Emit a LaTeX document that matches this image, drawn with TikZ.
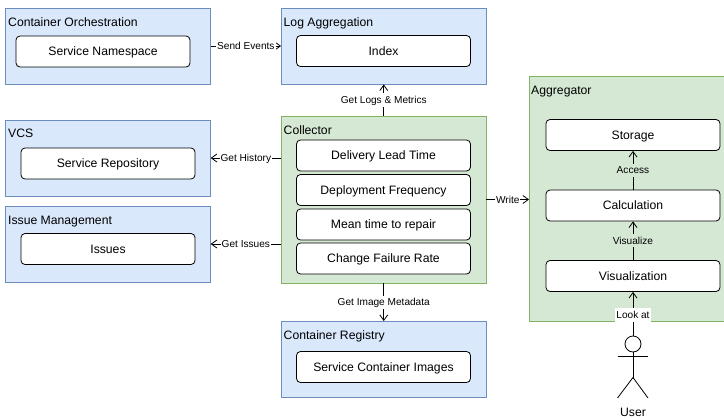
\documentclass[tikz,border=0pt]{standalone}
\usepackage{fontspec}
\setmainfont{Liberation Sans}
\usepackage{tikz}
\usetikzlibrary{arrows.meta,positioning}
\definecolor{bluefill}{HTML}{DAE8FC}
\definecolor{blueline}{HTML}{6C8EBF}
\definecolor{greenfill}{HTML}{D5E8D4}
\definecolor{greenline}{HTML}{82B366}
\tikzset{
  bluegroup/.style={draw=blueline, fill=bluefill, line width=0.9pt, minimum width=204.5pt, minimum height=76pt},
  greengroup/.style={draw=greenline, fill=greenfill, line width=0.9pt},
  inner/.style={draw, fill=white, rounded corners=4pt, line width=0.8pt, minimum width=174pt, minimum height=31pt, text height=8.7pt, text depth=0pt, font=\fontsize{12.2}{14}\selectfont},
  title/.style={anchor=west, inner sep=0pt, text height=8.7pt, text depth=0pt, font=\fontsize{12.2}{14}\selectfont},
  edgelabel/.style={midway, inner sep=1pt, fill=white, text height=9.2pt, text depth=2pt, font=\fontsize{10.1}{12}\selectfont},
  conn/.style={-{Straight Barb[length=5.5pt,width=8pt]}, line width=0.8pt}
}
\begin{document}
\begin{tikzpicture}[x=1pt,y=-1pt]
      \useasboundingbox (0,0) rectangle (724,418);
      % left column
      \node[bluegroup] at (108,46) (orch) {};
      \node[title] at (8,21.7) (orchtitle) {Container Orchestration};
      \node[inner] at (103,51.5) (namespace) {Service Namespace};
      \node[bluegroup] at (108,158) (vcs) {};
      \node[title] at (8,133.5) (vcstitle) {VCS};
      \node[inner] at (108,163.5) (repo) {Service Repository};
      \node[bluegroup] at (108,244) (issuemgmt) {};
      \node[title] at (8,219.7) (issuetitle) {Issue Management};
      \node[inner] at (108,249) (issues) {Issues};
      % middle column
      \node[bluegroup] at (383.75,46) (logagg) {};
      \node[title] at (283.5,22) (logtitle) {Log Aggregation};
      \node[inner] at (383.5,51) (index) {Index};
      \node[greengroup, minimum width=204.5pt, minimum height=167pt] at (383.75,199.5) (collector) {};
      \node[title] at (283.5,130) (collectortitle) {Collector};
      \node[inner] at (383.5,155.5) (leadtime) {Delivery Lead Time};
      \node[inner] at (383.5,190) (frequency) {Deployment Frequency};
      \node[inner] at (383.5,224.5) (repair) {Mean time to repair};
      \node[inner] at (383.5,258.5) (failure) {Change Failure Rate};
      \node[bluegroup] at (383.75,359.5) (registry) {};
      \node[title] at (283.5,334.7) (registrytitle) {Container Registry};
      \node[inner] at (383.5,367) (images) {Service Container Images};
      % right column
      \node[greengroup, minimum width=195pt, minimum height=245.5pt] at (627,198.75) (aggregator) {};
      \node[title] at (531,90) (aggtitle) {Aggregator};
      \node[inner] at (633,135) (storage) {Storage};
      \node[inner] at (633,205.5) (calc) {Calculation};
      \node[inner] at (633,276) (vis) {Visualization};
      % user
      \node[circle, draw, line width=0.8pt, inner sep=0pt, minimum size=16pt] at (633,344) (head) {};
      \coordinate (foot) at (633,377.5);
      \draw[line width=0.8pt] (head) -- (foot);
      \draw[line width=0.8pt] (617.5,356.5) -- (648,356.5);
      \draw[line width=0.8pt] (617.5,398) -- (foot) -- (648,398);
      \node[text height=8.7pt, text depth=0pt, font=\fontsize{12.2}{14}\selectfont] at (633,412) (user) {User};
      % connectors
      \draw[conn] (orch) -- (logagg) node[edgelabel] {Send Events};
      \draw[conn] (collector.north) -- (logagg.south) node[edgelabel] {Get Logs \& Metrics};
      \draw[conn] (vcs.east -| collector.west) -- (vcs.east) node[edgelabel] {Get History};
      \draw[conn] (issuemgmt.east -| collector.west) -- (issuemgmt.east) node[edgelabel] {Get Issues};
      \draw[conn] (collector.south) -- (registry.north) node[edgelabel] {Get Image Metadata};
      \draw[conn] (collector.east) -- (collector.east -| aggregator.west) node[edgelabel] {Write};
      \draw[conn] (calc) -- (storage) node[edgelabel, fill=greenfill] {Access};
      \draw[conn] (vis) -- (calc) node[edgelabel, fill=greenfill] {Visualize};
      \draw[conn] (head) -- (vis) node[edgelabel, pos=0.47] {Look at};
      \end{tikzpicture}
\end{document}
